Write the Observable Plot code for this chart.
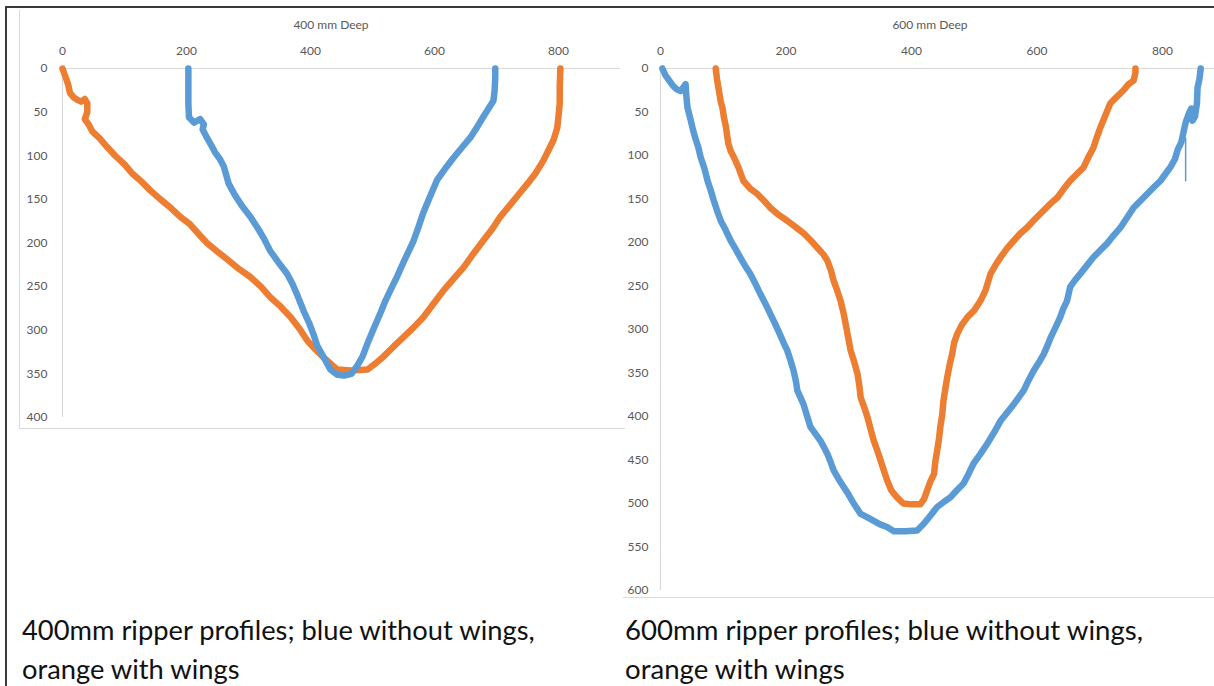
<!DOCTYPE html>
<html><head><meta charset="utf-8">
<script src="https://cdn.jsdelivr.net/npm/d3@7"></script>
<script src="https://cdn.jsdelivr.net/npm/@observablehq/plot@0.6"></script>
<style>
html,body{margin:0;padding:0;background:#fff}
body{width:1214px;height:686px;overflow:hidden;position:relative;font-family:Lato,"Open Sans",sans-serif}
.abs{position:absolute}
.title{position:absolute;font-size:12px;color:#595959;transform:translateX(-50%);white-space:nowrap;line-height:14px}
.cap{position:absolute;font-family:Lato,"Open Sans",sans-serif;color:#111;white-space:nowrap}
</style></head><body>
<div class="abs" style="left:5px;top:6px;width:1209px;height:2px;background:#3a3a3a"></div>
<div class="abs" style="left:5px;top:6px;width:2px;height:680px;background:#3a3a3a"></div>
<div class="abs" style="left:19px;top:10px;width:1px;height:419px;background:#d9d9d9"></div>
<div class="abs" style="left:19px;top:428px;width:606px;height:1px;background:#d9d9d9"></div>
<div class="abs" style="left:623px;top:597px;width:591px;height:1px;background:#d9d9d9"></div>
<div id="left" class="abs" style="left:20px;top:10px"></div>
<div id="right" class="abs" style="left:623px;top:10px"></div>
<div class="title" style="left:331px;top:18px">400 mm Deep</div>
<div class="title" style="left:930px;top:18px">600 mm Deep</div>
<div class="cap" id="c1" style="left:22px;top:613px"></div>
<div class="cap" id="c2" style="left:22px;top:652px"></div>
<div class="cap" id="c3" style="left:625px;top:613px"></div>
<div class="cap" id="c4" style="left:625px;top:652px"></div>
<script>
// ---- Data (x = horizontal position in mm, d = depth in mm) ----
const xTicks = [0, 200, 400, 600, 800];
const yTicks400 = [0, 50, 100, 150, 200, 250, 300, 350, 400];
const yTicks600 = [0, 50, 100, 150, 200, 250, 300, 350, 400, 450, 500, 550, 600];
const captions = [
  ["400mm ripper profiles; blue without wings,", "orange with wings"],
  ["600mm ripper profiles; blue without wings,", "orange with wings"]
];

// 400 mm, orange (with wings)
const deep400OrangeX = [0,4,9,12,18,24,30,36,40,40,36,42,48,60,72,85,100,112,128,142,158,175,190,205,220,233,250,268,285,303,320,335,352,368,382,395,408,421,435,443,465,492,505,518,535,550,566,582,598,615,632,647,663,680,694,706,720,735,750,763,776,785,792,798,800,802,802,803];
const deep400OrangeD = [0,8,18,28,33,36,38,35,40,50,58,64,72,80,90,100,110,120,130,140,150,160,170,178,190,200,210,220,230,239,250,262,273,285,298,312,322,331,340,345,346,345,338,330,318,308,297,285,270,254,240,228,212,196,183,170,158,145,132,120,105,92,82,68,55,40,20,0];
// 400 mm, blue (without wings)
const deep400BlueX = [203,203,203,204,212,222,228,226,232,240,246,254,260,264,268,278,290,303,314,325,335,348,362,371,380,389,398,405,411,422,432,443,454,466,476,484,492,502,513,521,529,540,550,558,566,574,582,592,604,617,631,645,658,668,679,688,695,697,698,698];
const deep400BlueD = [0,20,40,56,62,58,64,70,78,88,96,104,112,122,132,145,158,170,182,195,209,222,235,247,262,278,292,305,318,332,345,351,352,350,340,330,315,298,280,266,254,238,222,210,198,182,165,148,128,115,102,90,79,68,55,45,37,25,10,0];

// 600 mm, orange (with wings)
const deep600OrangeX = [88,90,93,96,99,101,104,106,108,112,117,125,132,143,154,165,175,188,202,215,229,240,250,260,266,272,276,282,287,292,296,303,309,314,317,319,325,330,335,340,346,351,356,361,368,377,387,400,414,420,425,430,436,438,441,444,446,449,451,454,457,461,465,468,473,480,489,500,510,518,526,534,542,552,563,573,584,597,611,622,633,643,653,664,674,682,690,695,701,709,717,728,738,746,754,757,757];
const deep600OrangeD = [0,12,25,38,46,56,66,76,86,95,102,115,129,138,144,152,160,168,175,182,190,198,206,214,221,233,244,256,267,282,297,324,338,351,365,378,390,401,415,428,440,451,462,473,485,493,500,501,501,495,485,475,466,452,439,425,412,398,382,368,355,340,328,315,305,295,286,278,267,255,236,226,217,207,198,190,183,173,163,155,148,138,129,121,114,102,91,80,68,54,40,32,25,18,14,5,0];
// 600 mm, blue (without wings)
const deep600BlueX = [3,8,14,20,26,32,36,40,41,43,47,51,55,60,64,70,75,80,85,90,96,104,112,120,127,135,143,151,159,167,175,183,190,196,202,207,212,216,218,223,228,233,239,247,255,261,266,271,276,284,292,300,308,319,330,340,350,361,372,390,409,420,430,441,452,462,472,483,491,499,510,521,532,542,553,563,571,579,587,595,603,611,617,622,630,637,642,648,653,661,669,680,690,701,712,722,733,744,754,765,776,787,797,805,813,820,824,830,834,837,842,846,848,852,855,856,859,861];
const deep600BlueD = [0,8,14,20,24,26,22,18,30,45,56,68,79,90,102,115,129,140,152,163,175,186,198,208,217,227,236,247,259,270,282,294,305,315,324,335,347,360,370,378,386,398,412,420,428,436,443,452,462,472,481,490,500,512,516,520,524,527,532,532,531,523,514,504,498,493,485,477,466,454,443,431,418,405,395,386,378,370,358,347,338,328,318,309,297,286,276,267,251,243,236,226,217,209,201,192,183,171,160,152,144,136,129,121,113,104,94,85,72,62,52,46,60,55,40,22,12,0];
// 600 mm, blue thin spike near the right rim
const deep600BlueSpikeX = [837, 837];
const deep600BlueSpikeD = [80, 129];

// ---- Build ----
const blue = "#5B9BD5", orange = "#ED7D31", axisGrey = "#d9d9d9";
const rows = (xs, ds) => xs.map((x, i) => ({x, d: ds[i]}));

function chart(o) {
  return Plot.plot({
    width: o.w, height: o.h,
    marginLeft: o.ml, marginRight: o.mr, marginTop: o.mt, marginBottom: o.mb,
    style: {fontFamily: "Lato, 'Open Sans', sans-serif", fontSize: "12px", color: "#595959", background: "none", overflow: "visible"},
    x: {domain: [0, o.xmax], axis: "top", ticks: xTicks, tickSize: 0, tickPadding: o.xpad, label: null},
    y: {domain: [0, o.ymax], reverse: true, ticks: o.yticks, tickSize: 0, tickPadding: o.ypad, label: null},
    marks: [
      Plot.ruleY([0], {stroke: axisGrey, strokeWidth: 1.2}),
      Plot.ruleX([0], {stroke: axisGrey, strokeWidth: 1.2}),
      ...o.lines.map(l => Plot.line(l.data, {x: "x", y: "d", stroke: l.color, strokeWidth: l.width, strokeLinejoin: "round"}))
    ]
  });
}

document.getElementById("left").append(chart({
  w: 605, h: 418, ml: 42, mr: 5, mt: 58, mb: 11, xmax: 900, ymax: 400,
  yticks: yTicks400, xpad: 14, ypad: 15,
  lines: [
    {data: rows(deep400OrangeX, deep400OrangeD), color: orange, width: 6.5},
    {data: rows(deep400BlueX, deep400BlueD), color: blue, width: 6.5}
  ]
}));
document.getElementById("right").append(chart({
  w: 591, h: 588, ml: 37, mr: 0, mt: 58, mb: 8, xmax: 883, ymax: 600,
  yticks: yTicks600, xpad: 14, ypad: 12,
  lines: [
    {data: rows(deep600BlueX, deep600BlueD), color: blue, width: 6.5},
    {data: rows(deep600BlueSpikeX, deep600BlueSpikeD), color: blue, width: 1.5},
    {data: rows(deep600OrangeX, deep600OrangeD), color: orange, width: 6.5}
  ]
}));

// captions, fitted to the reference's line width
const capIds = [["c1","c2",513],["c3","c4",518]];
capIds.forEach(([a, b, target], i) => {
  const e1 = document.getElementById(a), e2 = document.getElementById(b);
  e1.textContent = captions[i][0]; e2.textContent = captions[i][1];
  e1.style.fontSize = "24px"; e2.style.fontSize = "24px";
  const w = e1.getBoundingClientRect().width;
  const fs = 24 * target / w;
  e1.style.fontSize = fs + "px"; e2.style.fontSize = fs + "px";
});
</script>
</body></html>
